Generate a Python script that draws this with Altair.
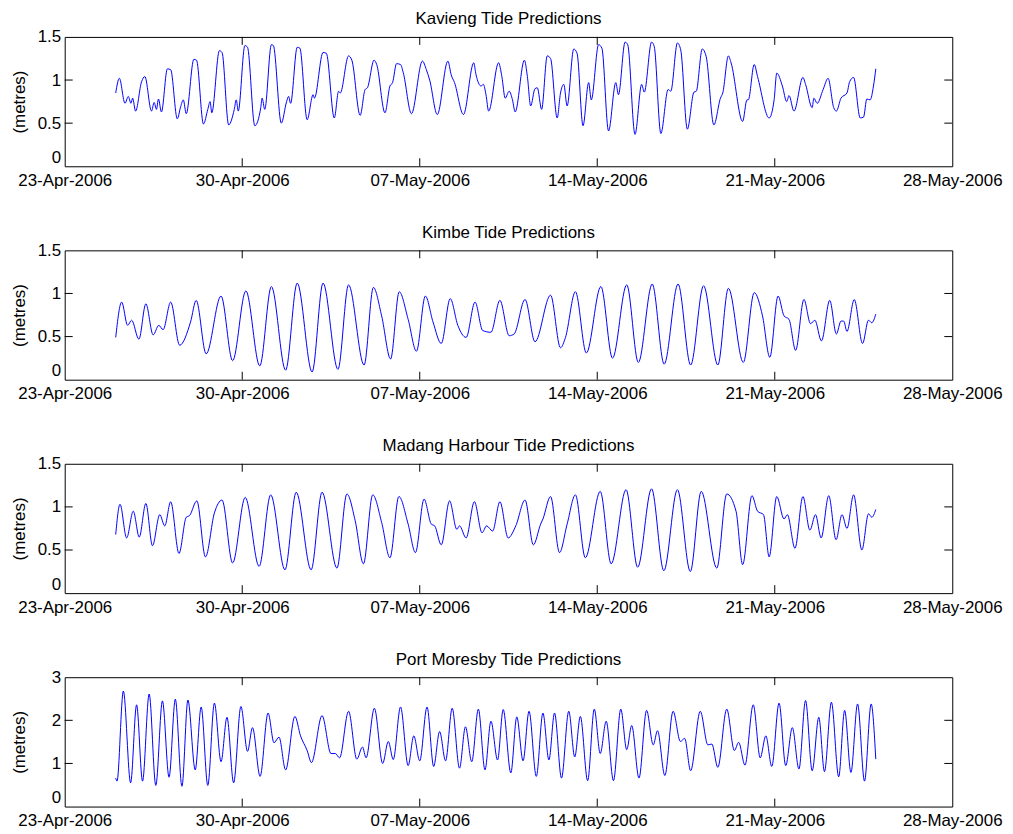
import altair as alt
import pandas as pd

# ---- data (day offset from 23-Apr-2006 00:00, metres) ----
kavieng = [(2.011,0.85),(2.155,1.02),(2.377,0.73),(2.507,0.81),(2.612,0.73),(2.677,0.79),(2.795,0.64),(3.030,0.98),(3.161,1.04),(3.422,0.64),(3.526,0.74),(3.618,0.66),(3.696,0.78),(3.814,0.63),(4.049,1.13),(4.179,1.12),(4.440,0.55),(4.571,0.69),(4.676,0.77),(4.793,0.61),(5.093,1.24),(5.198,1.23),(5.472,0.49),(5.642,0.66),(5.733,0.75),(5.799,0.62),(6.099,1.34),(6.204,1.32),(6.465,0.48),(6.687,0.66),(6.765,0.77),(6.843,0.64),(7.105,1.40),(7.209,1.38),(7.496,0.47),(7.731,0.68),(7.784,0.79),(7.888,0.66),(8.150,1.41),(8.228,1.40),(8.541,0.50),(8.750,0.75),(8.829,0.81),(8.907,0.73),(9.168,1.38),(9.273,1.37),(9.560,0.54),(9.795,0.83),(9.847,0.79),(10.187,1.32),(10.317,1.31),(10.631,0.56),(10.801,0.87),(10.866,0.85),(11.193,1.28),(11.323,1.23),(11.650,0.59),(11.846,0.89),(11.937,0.91),(12.198,1.23),(12.303,1.18),(12.629,0.62),(12.825,0.93),(12.929,0.97),(13.086,1.19),(13.243,1.18),(13.347,1.09),(13.674,0.61),(14.105,1.22),(14.261,1.12),(14.392,1.00),(14.692,0.60),(15.110,1.22),(15.241,1.06),(15.372,0.97),(15.724,0.60),(16.129,1.20),(16.221,1.06),(16.417,0.93),(16.508,0.95),(16.613,0.83),(16.717,0.64),(17.109,1.20),(17.239,1.04),(17.370,0.79),(17.527,0.87),(17.657,0.77),(17.762,0.63),(18.127,1.23),(18.245,1.04),(18.375,0.70),(18.545,0.90),(18.637,0.91),(18.806,0.66),(19.028,1.28),(19.159,1.25),(19.420,0.56),(19.551,0.85),(19.681,0.95),(19.812,0.70),(20.073,1.36),(20.204,1.31),(20.439,0.47),(20.661,0.97),(20.765,0.77),(21.053,1.41),(21.183,1.37),(21.445,0.41),(21.732,0.97),(21.836,0.83),(22.098,1.44),(22.202,1.41),(22.489,0.37),(22.751,0.95),(22.855,0.86),(23.142,1.44),(23.247,1.39),(23.508,0.38),(23.795,0.89),(23.900,0.87),(24.161,1.43),(24.292,1.35),(24.553,0.43),(24.814,0.86),(24.905,0.87),(25.141,1.36),(25.297,1.27),(25.598,0.48),(25.859,0.79),(25.950,0.85),(26.172,1.28),(26.277,1.20),(26.734,0.52),(26.904,0.77),(26.956,0.77),(27.191,1.18),(27.322,1.04),(27.779,0.56),(27.975,0.77),(28.079,1.08),(28.301,0.93),(28.471,0.75),(28.562,0.82),(28.758,0.64),(29.111,1.03),(29.215,0.95),(29.476,0.68),(29.542,0.79),(29.672,0.73),(29.907,0.89),(30.103,1.02),(30.325,0.68),(30.430,0.64),(30.613,0.79),(30.848,0.85),(30.952,0.98),(31.109,1.03),(31.370,0.56),(31.501,0.57),(31.631,0.78),(31.762,0.77),(31.893,0.93),(31.984,1.13)]

kimbe = [(2.011,0.49),(2.246,0.90),(2.481,0.63),(2.638,0.69),(2.925,0.47),(3.200,0.88),(3.487,0.52),(3.709,0.63),(3.879,0.58),(4.179,0.90),(4.532,0.40),(4.963,0.67),(5.185,0.92),(5.577,0.30),(6.164,0.97),(6.621,0.22),(7.144,1.03),(7.692,0.16),(8.150,1.08),(8.711,0.11),(9.168,1.12),(9.756,0.09),(10.187,1.12),(10.775,0.12),(11.193,1.10),(11.806,0.17),(12.172,1.07),(12.498,0.74),(12.851,0.24),(13.191,1.02),(13.543,0.70),(13.870,0.33),(14.222,0.97),(14.523,0.67),(14.849,0.42),(15.202,0.94),(15.502,0.63),(15.829,0.49),(16.181,0.90),(16.482,0.57),(16.808,0.55),(17.161,0.92),(17.527,0.51),(17.722,0.53),(18.153,0.93),(18.545,0.44),(19.159,0.98),(19.551,0.37),(19.747,0.49),(20.139,1.02),(20.570,0.31),(21.144,1.08),(21.602,0.25),(22.163,1.10),(22.620,0.20),(23.168,1.11),(23.639,0.18),(24.187,1.11),(24.683,0.17),(25.193,1.09),(25.755,0.17),(26.172,1.06),(26.760,0.20),(27.191,1.01),(27.517,0.74),(27.805,0.26),(28.131,0.97),(28.366,0.74),(28.562,0.70),(28.823,0.34),(29.150,0.93),(29.411,0.65),(29.581,0.69),(29.842,0.45),(30.168,0.92),(30.430,0.53),(30.613,0.68),(30.717,0.68),(30.848,0.56),(31.135,0.93),(31.462,0.42),(31.697,0.69),(31.828,0.66),(31.984,0.76)]

madang = [(2.011,0.68),(2.181,1.03),(2.442,0.64),(2.703,0.95),(2.939,0.65),(3.200,1.04),(3.461,0.55),(3.748,0.91),(3.944,0.78),(4.179,1.06),(4.506,0.46),(4.793,0.88),(4.924,0.90),(5.211,1.07),(5.551,0.42),(5.903,0.93),(6.204,1.08),(6.621,0.35),(7.118,1.11),(7.666,0.31),(8.123,1.14),(8.685,0.27),(9.129,1.17),(9.717,0.27),(10.148,1.17),(10.735,0.29),(11.127,1.15),(11.454,0.84),(11.780,0.34),(12.146,1.14),(12.498,0.82),(12.825,0.41),(13.178,1.12),(13.543,0.80),(13.831,0.47),(14.170,1.09),(14.457,0.80),(14.588,0.78),(14.849,0.56),(15.176,1.07),(15.463,0.74),(15.568,0.78),(15.829,0.64),(16.155,1.06),(16.456,0.70),(16.638,0.78),(16.874,0.72),(17.161,1.06),(17.487,0.64),(17.788,0.78),(18.153,1.08),(18.480,0.56),(18.767,0.80),(18.858,0.86),(19.159,1.12),(19.512,0.47),(19.812,0.80),(20.139,1.14),(20.530,0.41),(21.118,1.18),(21.549,0.34),(22.137,1.20),(22.594,0.30),(23.142,1.21),(23.626,0.26),(24.161,1.20),(24.670,0.25),(25.101,1.18),(25.715,0.29),(26.107,1.15),(26.473,0.95),(26.734,0.33),(27.100,1.13),(27.322,0.95),(27.557,0.91),(27.779,0.42),(28.079,1.12),(28.366,0.86),(28.497,0.91),(28.797,0.52),(29.111,1.12),(29.385,0.73),(29.607,0.91),(29.829,0.64),(30.129,1.13),(30.417,0.62),(30.652,0.91),(30.848,0.75),(31.109,1.14),(31.436,0.50),(31.697,0.92),(31.828,0.88),(31.984,0.97)]

port_moresby = [(2.011,0.66),(2.063,0.59),(2.312,2.68),(2.599,0.55),(2.834,2.36),(3.069,0.59),(3.330,2.61),(3.592,0.49),(3.853,2.45),(4.114,0.68),(4.362,2.49),(4.623,0.47),(4.858,2.47),(5.146,0.85),(5.381,2.31),(5.642,0.49),(5.903,2.40),(6.164,1.04),(6.399,2.07),(6.661,0.55),(6.948,2.32),(7.209,1.28),(7.405,1.83),(7.705,0.70),(8.019,2.17),(8.254,1.48),(8.450,1.61),(8.711,0.85),(9.077,2.09),(9.299,1.64),(9.560,1.30),(9.730,1.02),(10.148,2.11),(10.500,1.23),(10.670,1.23),(10.840,1.13),(11.193,2.21),(11.519,1.10),(11.741,1.38),(11.885,1.13),(12.211,2.28),(12.538,1.00),(12.760,1.51),(12.956,1.09),(13.243,2.31),(13.543,0.95),(13.765,1.64),(14.000,1.06),(14.288,2.31),(14.549,0.93),(14.784,1.74),(15.019,1.06),(15.280,2.28),(15.568,0.89),(15.803,1.85),(16.051,1.04),(16.312,2.26),(16.573,0.85),(16.808,1.98),(17.069,1.08),(17.291,2.25),(17.592,0.78),(17.827,2.08),(18.075,1.06),(18.310,2.21),(18.597,0.70),(18.858,2.17),(19.094,1.08),(19.316,2.17),(19.590,0.66),(19.877,2.21),(20.112,1.15),(20.334,2.09),(20.622,0.60),(20.883,2.26),(21.118,1.23),(21.353,1.98),(21.640,0.60),(21.928,2.26),(22.163,1.32),(22.359,1.88),(22.646,0.66),(22.946,2.23),(23.208,1.43),(23.377,1.76),(23.665,0.72),(23.991,2.21),(24.279,1.51),(24.448,1.58),(24.683,0.83),(25.062,2.21),(25.363,1.43),(25.519,1.45),(25.755,0.91),(26.107,2.26),(26.407,1.30),(26.577,1.49),(26.825,0.96),(27.152,2.36),(27.426,1.13),(27.648,1.64),(27.883,0.93),(28.170,2.40),(28.432,0.95),(28.693,1.83),(28.954,0.87),(29.215,2.46),(29.476,0.83),(29.737,2.07),(29.960,0.81),(30.234,2.42),(30.521,0.69),(30.756,2.23),(31.004,0.79),(31.266,2.38),(31.540,0.59),(31.801,2.38),(31.984,1.10)]

titles = ["Kavieng Tide Predictions", "Kimbe Tide Predictions",
          "Madang Harbour Tide Predictions", "Port Moresby Tide Predictions"]
x_ticks = ["2006-04-23", "2006-04-30", "2006-05-07", "2006-05-14", "2006-05-21", "2006-05-28"]
y_ticks_small = [0, 0.5, 1, 1.5]
y_ticks_large = [0, 1, 2, 3]

# ---- build tables ----
BASE = pd.Timestamp("2006-04-23")


def to_frame(pairs):
    return pd.DataFrame({
        "t": [(BASE + pd.Timedelta(days=d)).strftime("%Y-%m-%dT%H:%M:%SZ") for d, _ in pairs],
        "v": [v for _, v in pairs],
    })


def dt(s):
    ts = pd.Timestamp(s)
    return alt.DateTime(year=ts.year, month=ts.month, date=ts.day, utc=True)


W, H, TL = 892, 130, 8
FONT = "Liberation Sans"

xscale = alt.Scale(type="utc", domain=[dt(x_ticks[0]), dt(x_ticks[-1])])
xaxis = alt.Axis(values=[dt(s) for s in x_ticks], format="%d-%b-%Y", labelFlush=False,
                 labelOverlap=False, ticks=False, domain=False, grid=False, title=None,
                 labelPadding=6, labelFont=FONT, labelFontSize=17, labelColor="black")
xtick_df = pd.DataFrame({"t": [s + "T00:00:00Z" for s in x_ticks[1:-1]]})


def panel(pairs, title, yticks):
    df = to_frame(pairs)
    yaxis = alt.Axis(values=yticks, format="~g", ticks=False, domain=False, grid=False,
                     title="(metres)", titlePadding=8, labelPadding=4,
                     labelFont=FONT, labelFontSize=17, labelColor="black",
                     titleFont=FONT, titleFontSize=17, titleColor="black", titleFontWeight="normal",
                     titleX=-36, titleY=H / 2, titleAlign="center", titleBaseline="bottom",
                     labelBaseline={"condition": {"test": "datum.value === 0", "value": "bottom"},
                                    "value": "middle"})
    xs = alt.X("t:T", scale=xscale, axis=xaxis)
    ys = alt.Y("v:Q", scale=alt.Scale(domain=[yticks[0], yticks[-1]], nice=False), axis=yaxis)
    line = alt.Chart(df).mark_line(color="#0000ff", strokeWidth=1, interpolate="monotone").encode(x=xs, y=ys)
    xt = alt.Chart(xtick_df)
    top = xt.mark_rule(color="black", strokeWidth=1).encode(x=xs, y=alt.value(0), y2=alt.value(TL))
    bot = xt.mark_rule(color="black", strokeWidth=1).encode(x=xs, y=alt.value(H - TL), y2=alt.value(H))
    yt = alt.Chart(pd.DataFrame({"v": yticks[1:-1]}))
    left = yt.mark_rule(color="black", strokeWidth=1).encode(y=ys, x=alt.value(0), x2=alt.value(TL))
    right = yt.mark_rule(color="black", strokeWidth=1).encode(y=ys, x=alt.value(W - TL), x2=alt.value(W))
    return alt.layer(line, top, bot, left, right).properties(
        width=W, height=H,
        title=alt.TitleParams(title, fontSize=17, font=FONT, fontWeight="normal", color="black",
                              anchor="middle", frame="group", baseline="alphabetic", offset=-13.5),
    )


panels = [
    panel(kavieng, titles[0], y_ticks_small),
    panel(kimbe, titles[1], y_ticks_small),
    panel(madang, titles[2], y_ticks_small),
    panel(port_moresby, titles[3], y_ticks_large),
]

chart = alt.vconcat(*panels, spacing=34.5).properties(
    padding={"left": 2, "top": 0, "right": 2, "bottom": 0}, background="white"
).configure_view(stroke="black", strokeWidth=1)

chart.save("out.html", embed_options={"renderer": "svg", "actions": False})
